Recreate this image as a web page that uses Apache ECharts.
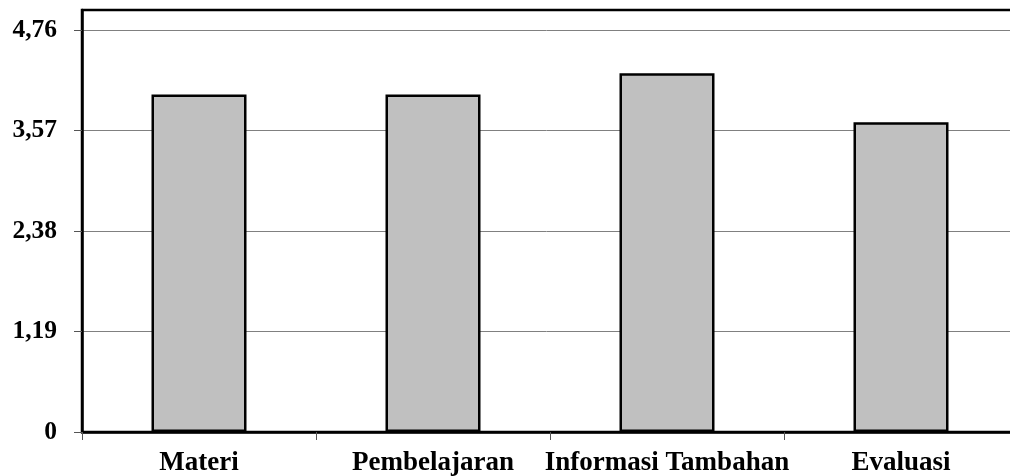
<!DOCTYPE html>
<html>
<head>
<meta charset="utf-8">
<script src="https://cdn.jsdelivr.net/npm/echarts@6/dist/echarts.min.js"></script>
<style>
html,body{margin:0;padding:0;background:#fff;}
#chart{width:1010px;height:476px;}
</style>
</head>
<body>
<div id="chart"></div>
<script>
const categories = ['Materi', 'Pembelajaran', 'Informasi Tambahan', 'Evaluasi'];
const values = [4.0, 4.0, 4.25, 3.67];
const yTicks = [0, 1.19, 2.38, 3.57, 4.76];
const yMax = 5.0;

const chart = echarts.init(document.getElementById('chart'), null, {renderer: 'canvas'});
const fontFamily = '"Liberation Serif", "Times New Roman", serif';
chart.setOption({
  animation: false,
  backgroundColor: '#ffffff',
  grid: {
    left: 82, width: 936, top: 10, bottom: 44,
    outerBoundsMode: 'none', containLabel: false,
    show: true, borderColor: '#000', borderWidth: 2.5, backgroundColor: 'transparent'
  },
  xAxis: {
    type: 'category',
    data: categories,
    axisLine: {lineStyle: {color: '#000', width: 2.5}},
    axisTick: {show: true, length: 8, lineStyle: {color: '#555', width: 1}},
    axisLabel: {
      interval: 0, hideOverlap: false,
      color: '#000', fontFamily: fontFamily, fontWeight: 'bold', fontSize: 27, margin: 18
    },
    splitLine: {show: false}
  },
  yAxis: {
    type: 'value',
    min: 0, max: yMax, interval: 1.19,
    axisLine: {show: true, lineStyle: {color: '#000', width: 2.5}},
    axisTick: {show: true, length: 8, lineStyle: {color: '#555', width: 1}, customValues: yTicks},
    axisLabel: {
      color: '#000', fontFamily: fontFamily, fontWeight: 'bold', fontSize: 25.5, margin: 25,
      customValues: yTicks,
      formatter: v => v === 0 ? '0' : v.toFixed(2).replace('.', ',')
    },
    splitLine: {show: true, lineStyle: {color: '#808080', width: 1}}
  },
  series: [{
    type: 'bar',
    data: values,
    barWidth: '40.6%',
    itemStyle: {color: '#c0c0c0', borderColor: '#000', borderWidth: 2.5}
  }]
});
</script>
</body>
</html>
